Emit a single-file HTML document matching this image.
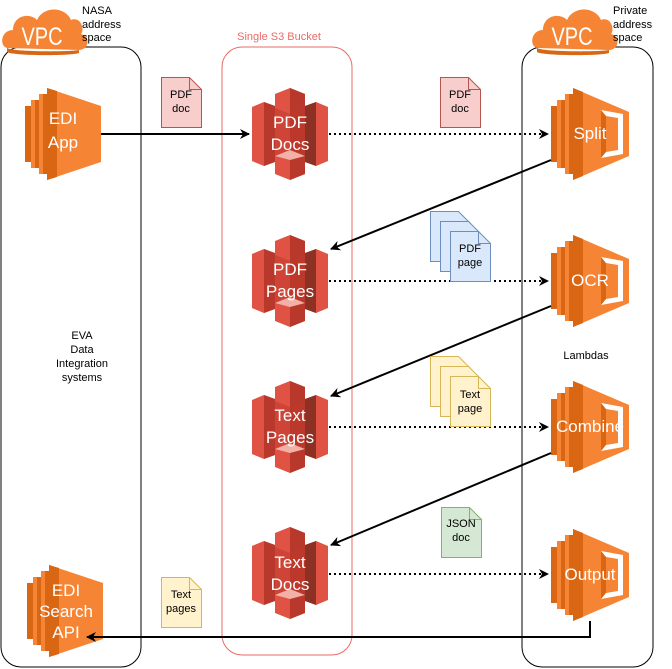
<!DOCTYPE html>
<html><head><meta charset="utf-8"><style>
html,body{margin:0;padding:0;background:#fff}
svg{display:block}
text{font-family:"Liberation Sans",Arial,sans-serif}
</style></head><body>
<svg width="672" height="669" viewBox="0 0 672 669" xmlns="http://www.w3.org/2000/svg">
<defs>
<marker id="ah" markerWidth="10" markerHeight="10" refX="9" refY="5" orient="auto" markerUnits="userSpaceOnUse">
<path d="M0,0 L10,5 L0,10 L3,5 Z" fill="#000"/>
</marker>
<g id="s3">
  <polygon points="0,19 12,14 23,18 23,74 12,78 0,73" fill="#E05243"/>
  <polygon points="12,14 23,18 23,74 12,78" fill="#B8392B"/>
  <polygon points="53,18 64,14 76,19 76,73 64,78 53,74" fill="#E05243"/>
  <polygon points="53,18 64,14 64,78 53,74" fill="#8C3123"/>
  <polygon points="23,6 38,0 53,6 53,86 38,92 23,86" fill="#E05243"/>
  <polygon points="38,0 53,6 53,86 38,92" fill="#B8392B"/>
  <polygon points="23,20 38,26 53,20 53,68 38,62 23,68" fill="#C0392B" opacity="0.55"/>
  <polygon points="23,68 38,62 53,68 38,72" fill="#F2B0A6"/>
</g>
<g id="lam">
  <rect x="0" y="18" width="6" height="56" fill="#D86613"/>
  <rect x="6" y="12" width="8" height="68" fill="#F58534"/>
  <rect x="10" y="12" width="4" height="68" fill="#D86613"/>
  <rect x="14" y="6" width="8" height="80" fill="#F58534"/>
  <rect x="18" y="6" width="4" height="80" fill="#D86613"/>
  <polygon points="22,0 78,24 78,68 22,92" fill="#F58534"/>
  <polygon points="22,0 32,4 32,88 22,92" fill="#D86613"/>
  <polygon points="50,22 72,26 72,66 50,70" fill="#fff"/>
  <polygon points="55,28 67,30 67,62 55,64" fill="#F58534"/>
  <polygon points="50,22 55,28 55,64 50,70" fill="#D86613"/>
  <polygon points="55,36 66,46 55,56" fill="#F58534"/>
</g>
<g id="ec2">
  <rect x="0" y="18" width="6" height="56" fill="#D86613"/>
  <rect x="6" y="12" width="8" height="68" fill="#F58534"/>
  <rect x="10" y="12" width="4" height="68" fill="#D86613"/>
  <rect x="14" y="6" width="8" height="80" fill="#F58534"/>
  <rect x="18" y="6" width="4" height="80" fill="#D86613"/>
  <polygon points="22,0 76,18 76,74 22,92" fill="#F58534"/>
  <polygon points="22,0 32,3 32,89 22,92" fill="#D86613"/>
</g>
<g id="cloud">
  <path d="M6,46 C-2,44 0,28 12,28 C12,14 28,10 36,18 C42,4 64,4 70,18 C80,14 84,28 80,32 C90,34 88,48 78,48 Z" fill="#F58534"/>
  <path d="M6,46 C12,50 70,50 78,48 L78,51 C70,54 12,54 6,50 Z" fill="#D86613"/>
</g>
</defs>

<rect x="1" y="47" width="140" height="620" rx="20" fill="none" stroke="#000" stroke-width="1"/>
<rect x="222" y="47" width="130" height="608" rx="20" fill="none" stroke="#EA6B66" stroke-width="1"/>
<rect x="522" y="47" width="131" height="620" rx="20" fill="none" stroke="#000" stroke-width="1"/>

<use href="#cloud" x="1" y="2"/>
<text transform="translate(42,45) scale(0.8,1)" font-size="25" fill="#fff" text-anchor="middle">VPC</text>
<use href="#cloud" x="531" y="2"/>
<text transform="translate(572,45) scale(0.8,1)" font-size="25" fill="#fff" text-anchor="middle">VPC</text>

<text font-size="11" fill="#000"><tspan x="82" y="14">NASA</tspan><tspan x="82" y="28">address</tspan><tspan x="82" y="41">space</tspan></text>
<text font-size="11" fill="#000"><tspan x="613" y="14">Private</tspan><tspan x="613" y="28">address</tspan><tspan x="613" y="41">space</tspan></text>
<text x="279" y="40" font-size="11" fill="#EA6B66" text-anchor="middle">Single S3 Bucket</text>

<text font-size="11" text-anchor="middle"><tspan x="82" y="339">EVA</tspan><tspan x="82" y="353">Data</tspan><tspan x="82" y="367">Integration</tspan><tspan x="82" y="381">systems</tspan></text>
<text x="586" y="359" font-size="11" text-anchor="middle">Lambdas</text>

<use href="#ec2" x="25" y="88"/>
<text font-size="17" fill="#fff" text-anchor="middle"><tspan x="63" y="124">EDI</tspan><tspan x="63" y="148">App</tspan></text>
<use href="#ec2" x="27" y="565"/>
<text font-size="17" fill="#fff" text-anchor="middle"><tspan x="66" y="596">EDI</tspan><tspan x="66" y="617">Search</tspan><tspan x="66" y="638">API</tspan></text>

<use href="#s3" x="252" y="88"/>
<text font-size="17" fill="#fff" text-anchor="middle"><tspan x="290" y="128">PDF</tspan><tspan x="290" y="150">Docs</tspan></text>
<use href="#s3" x="252" y="235"/>
<text font-size="17" fill="#fff" text-anchor="middle"><tspan x="290" y="275">PDF</tspan><tspan x="290" y="297">Pages</tspan></text>
<use href="#s3" x="252" y="381"/>
<text font-size="17" fill="#fff" text-anchor="middle"><tspan x="290" y="421">Text</tspan><tspan x="290" y="443">Pages</tspan></text>
<use href="#s3" x="252" y="527"/>
<text font-size="17" fill="#fff" text-anchor="middle"><tspan x="290" y="568">Text</tspan><tspan x="290" y="590">Docs</tspan></text>

<use href="#lam" x="551" y="88"/>
<text x="590" y="139" font-size="17" fill="#fff" text-anchor="middle">Split</text>
<use href="#lam" x="551" y="235"/>
<text x="590" y="286" font-size="17" fill="#fff" text-anchor="middle">OCR</text>
<use href="#lam" x="551" y="381"/>
<text x="590" y="432" font-size="17" fill="#fff" text-anchor="middle">Combine</text>
<use href="#lam" x="551" y="529"/>
<text x="590" y="580" font-size="17" fill="#fff" text-anchor="middle">Output</text>

<g stroke="#000" stroke-width="2" fill="none">
<line x1="101" y1="134" x2="249" y2="134" marker-end="url(#ah)"/>
<line x1="551" y1="160" x2="331" y2="249" marker-end="url(#ah)"/>
<line x1="551" y1="306" x2="331" y2="396" marker-end="url(#ah)"/>
<line x1="551" y1="453" x2="331" y2="545" marker-end="url(#ah)"/>
<polyline points="590,621 590,637 87,637" marker-end="url(#ah)"/>
</g>
<g stroke="#000" stroke-width="2" fill="none" stroke-dasharray="2,3">
<line x1="329" y1="134" x2="548" y2="134" marker-end="url(#ah)"/>
<line x1="329" y1="281" x2="548" y2="281" marker-end="url(#ah)"/>
<line x1="329" y1="427" x2="548" y2="427" marker-end="url(#ah)"/>
<line x1="329" y1="574" x2="548" y2="574" marker-end="url(#ah)"/>
</g>

<g font-size="11" text-anchor="middle">
<path d="M161.5,77.5 h28 l12,12 v38 h-40 z" fill="#F8CECC" stroke="#B85450"/>
<path d="M189.5,77.5 v12 h12" fill="none" stroke="#B85450"/>
<text x="181" y="98">PDF</text><text x="181" y="112">doc</text>

<path d="M440.5,77.5 h28 l12,12 v38 h-40 z" fill="#F8CECC" stroke="#B85450"/>
<path d="M468.5,77.5 v12 h12" fill="none" stroke="#B85450"/>
<text x="460" y="98">PDF</text><text x="460" y="112">doc</text>

<path d="M430.5,211.5 h28 l12,12 v38 h-40 z" fill="#DAE8FC" stroke="#6C8EBF"/>
<path d="M440.5,221.5 h28 l12,12 v38 h-40 z" fill="#DAE8FC" stroke="#6C8EBF"/>
<path d="M450.5,231.5 h28 l12,12 v38 h-40 z" fill="#DAE8FC" stroke="#6C8EBF"/>
<path d="M478.5,231.5 v12 h12" fill="none" stroke="#6C8EBF"/>
<text x="470" y="252">PDF</text><text x="470" y="266">page</text>

<path d="M430.5,356.5 h28 l12,12 v38 h-40 z" fill="#FFF2CC" stroke="#D6B656"/>
<path d="M440.5,366.5 h28 l12,12 v38 h-40 z" fill="#FFF2CC" stroke="#D6B656"/>
<path d="M450.5,376.5 h28 l12,12 v38 h-40 z" fill="#FFF2CC" stroke="#D6B656"/>
<path d="M478.5,376.5 v12 h12" fill="none" stroke="#D6B656"/>
<text x="470" y="398">Text</text><text x="470" y="412">page</text>

<path d="M441.5,507.5 h28 l12,12 v38 h-40 z" fill="#D5E8D4" stroke="#82B366"/>
<path d="M469.5,507.5 v12 h12" fill="none" stroke="#82B366"/>
<text x="461" y="527">JSON</text><text x="461" y="541">doc</text>

<path d="M161.5,577.5 h28 l12,12 v38 h-40 z" fill="#FFF2CC" stroke="#D6B656"/>
<path d="M189.5,577.5 v12 h12" fill="none" stroke="#D6B656"/>
<text x="181" y="598">Text</text><text x="181" y="612">pages</text>
</g>
</svg>
</body></html>
